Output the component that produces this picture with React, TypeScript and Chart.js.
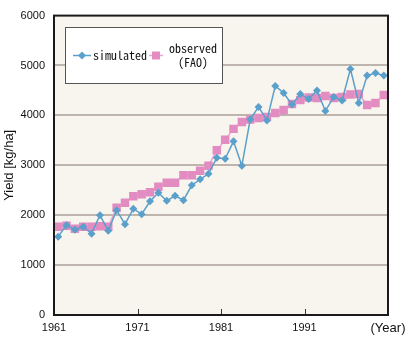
import React, { useEffect, useRef } from 'react';
import { Chart, registerables } from 'chart.js';

Chart.register(...registerables);

const years = [
  1961, 1962, 1963, 1964, 1965, 1966, 1967, 1968, 1969, 1970,
  1971, 1972, 1973, 1974, 1975, 1976, 1977, 1978, 1979, 1980,
  1981, 1982, 1983, 1984, 1985, 1986, 1987, 1988, 1989, 1990,
  1991, 1992, 1993, 1994, 1995, 1996, 1997, 1998, 1999, 2000,
];

const simulated = [
  1570, 1800, 1710, 1770, 1630, 2000, 1690, 2100, 1820, 2130,
  2020, 2280, 2450, 2290, 2390, 2300, 2600, 2720, 2830, 3150,
  3130, 3480, 2990, 3920, 4170, 3900, 4590, 4450, 4220, 4430,
  4330, 4500, 4090, 4370, 4300, 4930, 4250, 4800, 4850, 4800,
];

const observed = [
  1770, 1790, 1730, 1770, 1770, 1780, 1770, 2150, 2250, 2380,
  2420, 2460, 2570, 2650, 2650, 2800, 2800, 2890, 2990, 3300,
  3510, 3730, 3870, 3920, 3950, 3970, 4050, 4110, 4230, 4310,
  4360, 4350, 4390, 4350, 4370, 4420, 4430, 4210, 4250, 4410,
];

const xTickYears = [1961, 1971, 1981, 1991, 2001];
const xEndLabel = '(Year)';
const yMin = 0;
const yMax = 6000;
const yStep = 1000;
const yTitle = 'Yield [kg/ha]';
const legendLabels = ['simulated', 'observed', '(FAO)'];

const BLUE = '#5b9fcb';
const PINK = '#e28cc2';
const PINK_LINE = '#eaa3d0';
const PLOT_BG = '#f7f5ee';
const GRID = '#bdb5ad';
const TEXT = '#111111';
const MONO = "'Noto Sans Mono CJK JP', 'DejaVu Sans Mono', monospace";

const framePlugin = {
  id: 'frame',
  beforeDraw(chart: any) {
    const { ctx, chartArea: a } = chart;
    ctx.save();
    ctx.fillStyle = PLOT_BG;
    ctx.fillRect(a.left, a.top, a.right - a.left, a.bottom - a.top);
    ctx.restore();
  },
  afterDatasetsDraw(chart: any) {
    const { ctx, chartArea: a } = chart;
    const xs = chart.scales.x;
    ctx.save();
    ctx.strokeStyle = '#333';
    ctx.lineWidth = 1;
    xTickYears.slice(1, -1).forEach((yr) => {
      const px = Math.round(xs.getPixelForValue(yr - 0.5)) + 0.5;
      ctx.beginPath();
      ctx.moveTo(px, a.bottom);
      ctx.lineTo(px, a.bottom - 6);
      ctx.stroke();
    });
    ctx.strokeStyle = '#1a1a1a';
    ctx.lineWidth = 2;
    ctx.strokeRect(a.left, a.top, a.right - a.left, a.bottom - a.top);
    ctx.restore();
  },
  afterDraw(chart: any) {
    const { ctx } = chart;
    ctx.save();
    const bx = 65.5, by = 27.5, bw = 157, bh = 56;
    ctx.fillStyle = '#ffffff';
    ctx.fillRect(bx, by, bw, bh);
    ctx.strokeStyle = '#555';
    ctx.lineWidth = 1;
    ctx.strokeRect(bx, by, bw, bh);
    const cy = 55.5;
    ctx.strokeStyle = BLUE;
    ctx.lineWidth = 1.5;
    ctx.beginPath();
    ctx.moveTo(73, cy);
    ctx.lineTo(91, cy);
    ctx.stroke();
    ctx.fillStyle = BLUE;
    ctx.beginPath();
    ctx.moveTo(82, cy - 4);
    ctx.lineTo(86, cy);
    ctx.lineTo(82, cy + 4);
    ctx.lineTo(78, cy);
    ctx.closePath();
    ctx.fill();
    ctx.fillStyle = TEXT;
    ctx.font = `12px ${MONO}`;
    ctx.textBaseline = 'middle';
    ctx.textAlign = 'left';
    ctx.fillText(legendLabels[0], 93, cy);
    ctx.strokeStyle = PINK_LINE;
    ctx.lineWidth = 1.5;
    ctx.beginPath();
    ctx.moveTo(149, cy);
    ctx.lineTo(163, cy);
    ctx.stroke();
    ctx.fillStyle = PINK;
    ctx.fillRect(152, cy - 4, 8, 8);
    ctx.fillStyle = TEXT;
    ctx.textAlign = 'center';
    ctx.fillText(legendLabels[1], 193, 48);
    ctx.fillText(legendLabels[2], 193, 62);
    ctx.restore();
  },
};

export default function App() {
  const ref = useRef<HTMLCanvasElement>(null);

  useEffect(() => {
    if (!ref.current) return;
    Chart.defaults.font.family = "'Liberation Sans', Arial, sans-serif";
    const lastTick = xTickYears[xTickYears.length - 1] - 0.5;
    const chart = new Chart(ref.current, {
      type: 'line',
      data: {
        datasets: [
          {
            label: 'simulated',
            data: years.map((yr, i) => ({ x: yr, y: simulated[i] })),
            borderColor: BLUE,
            backgroundColor: BLUE,
            borderWidth: 1.5,
            pointStyle: 'rectRot',
            pointRadius: 4,
            pointBorderWidth: 0,
            pointBackgroundColor: BLUE,
            tension: 0,
          },
          {
            label: 'observed (FAO)',
            data: years.map((yr, i) => ({ x: yr, y: observed[i] })),
            borderColor: PINK_LINE,
            backgroundColor: PINK,
            borderWidth: 1.5,
            pointStyle: 'rect',
            pointRadius: 6,
            pointBorderWidth: 0,
            pointBackgroundColor: PINK,
            tension: 0,
          },
        ],
      },
      options: {
        responsive: false,
        animation: false,
        devicePixelRatio: 1,
        layout: { padding: { top: 15, right: 29, left: 0, bottom: 0 } },
        plugins: { legend: { display: false }, tooltip: { enabled: false } },
        scales: {
          x: {
            type: 'linear',
            min: xTickYears[0] - 0.5,
            max: lastTick,
            grid: { display: false, drawTicks: false, tickLength: 0 },
            border: { display: false },
            afterBuildTicks: (s: any) => {
              s.ticks = xTickYears.map((yr) => ({ value: yr - 0.5 }));
            },
            afterFit: (s: any) => {
              s.height = 23;
            },
            ticks: {
              autoSkip: false,
              maxRotation: 0,
              padding: 6,
              color: TEXT,
              font: (c: any) =>
                c.tick && c.tick.value === lastTick ? { size: 13 } : { size: 11 },
              callback: (v: any) => {
                const yr = Math.round(Number(v) + 0.5);
                return yr === xTickYears[xTickYears.length - 1] ? xEndLabel : String(yr);
              },
            },
          },
          y: {
            min: yMin,
            max: yMax,
            border: { display: false },
            grid: {
              drawTicks: false,
              lineWidth: 2,
              color: (c: any) =>
                c.tick && (c.tick.value === yMin || c.tick.value === yMax) ? 'rgba(0,0,0,0)' : GRID,
            },
            afterFit: (s: any) => {
              s.width = 54;
            },
            ticks: {
              stepSize: yStep,
              padding: 9,
              color: TEXT,
              font: { size: 11 },
              callback: (v: any) => String(v),
            },
            title: {
              display: true,
              text: yTitle,
              color: TEXT,
              font: { size: 13 },
              padding: { top: 2, bottom: 0 },
            },
          },
        },
      },
      plugins: [framePlugin],
    } as any);
    return () => chart.destroy();
  }, []);

  return (
    <div style={{ position: 'fixed', left: 0, top: 0, width: 417, height: 338, background: '#fff' }}>
      <canvas ref={ref} width={417} height={338} />
    </div>
  );
}
